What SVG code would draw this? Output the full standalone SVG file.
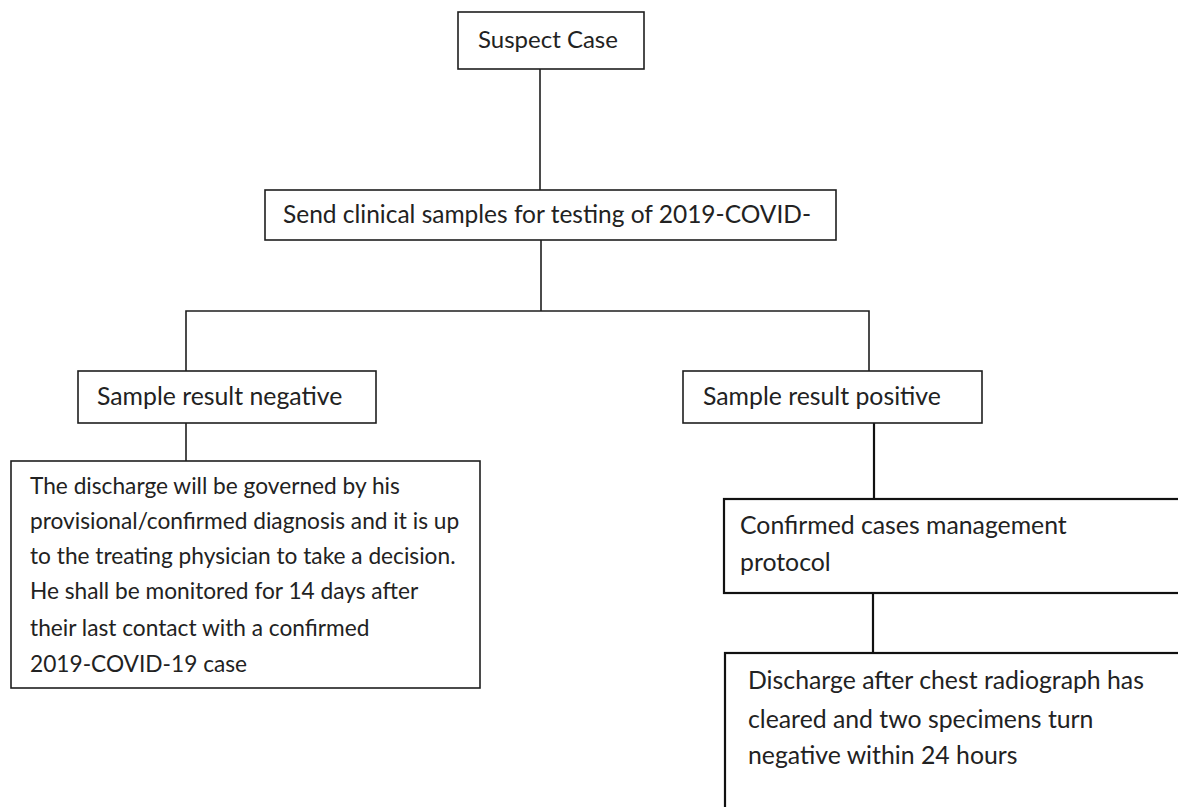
<svg xmlns="http://www.w3.org/2000/svg" width="1178" height="807" viewBox="0 0 1178 807">
<style>
  .box { fill: #ffffff; stroke: #1e1e1e; stroke-width: 1.6; }
  .box2 { fill: #ffffff; stroke: #111111; stroke-width: 2.2; }
  .t { font-family: Lato, "Open Sans", "Liberation Sans", sans-serif; fill: #222222; }
  .s24 { font-size: 24px; }
  .s245 { font-size: 24.5px; }
  .s25 { font-size: 24.8px; }
  .s23 { font-size: 22.7px; }
  .con { stroke: #1e1e1e; stroke-width: 1.6; fill: none; }
  .con2 { stroke: #111111; stroke-width: 2.2; fill: none; }
</style>
<rect width="1178" height="807" fill="#ffffff"/>
<g id="connectors">
  <line class="con" x1="540" y1="69" x2="540" y2="190"/>
  <line class="con" x1="541" y1="240" x2="541" y2="311"/>
  <polyline class="con" points="186,371 186,311 869,311 869,371"/>
  <line class="con" x1="186" y1="423" x2="186" y2="461"/>
  <line class="con2" x1="874" y1="423" x2="874" y2="499"/>
  <line class="con2" x1="873" y1="593" x2="873" y2="653"/>
</g>
<g id="suspect">
  <rect class="box" x="458" y="12" width="186" height="57"/>
  <text class="t s24" x="478" y="48">Suspect Case</text>
</g>
<g id="send">
  <rect class="box" x="265" y="190" width="571" height="50"/>
  <text class="t s245" x="283" y="223">Send clinical samples for testing of 2019-COVID-</text>
</g>
<g id="negative">
  <rect class="box" x="78" y="371" width="298" height="52"/>
  <text class="t s25" x="97" y="405">Sample result negative</text>
</g>
<g id="positive">
  <rect class="box" x="683" y="371" width="299" height="52"/>
  <text class="t s25" x="703" y="405">Sample result positive</text>
</g>
<g id="negative-detail">
  <rect class="box" x="11" y="461" width="469" height="227"/>
  <text class="t s23" x="30" y="494">The discharge will be governed by his</text>
  <text class="t s23" x="30" y="529">provisional/confirmed diagnosis and it is up</text>
  <text class="t s23" x="30" y="564">to the treating physician to take a decision.</text>
  <text class="t s23" x="30" y="599">He shall be monitored for 14 days after</text>
  <text class="t s23" x="30" y="636">their last contact with a confirmed</text>
  <text class="t s23" x="30" y="672">2019-COVID-19 case</text>
</g>
<g id="confirmed">
  <rect class="box2" x="724" y="499" width="470" height="94"/>
  <text class="t s25" x="740" y="534">Confirmed cases management</text>
  <text class="t s25" x="740" y="571">protocol</text>
</g>
<g id="discharge">
  <rect class="box2" x="725" y="653" width="470" height="170"/>
  <text class="t s25" x="748" y="689">Discharge after chest radiograph has</text>
  <text class="t s25" x="748" y="728">cleared and two specimens turn</text>
  <text class="t s25" x="748" y="764">negative within 24 hours</text>
</g>
</svg>
